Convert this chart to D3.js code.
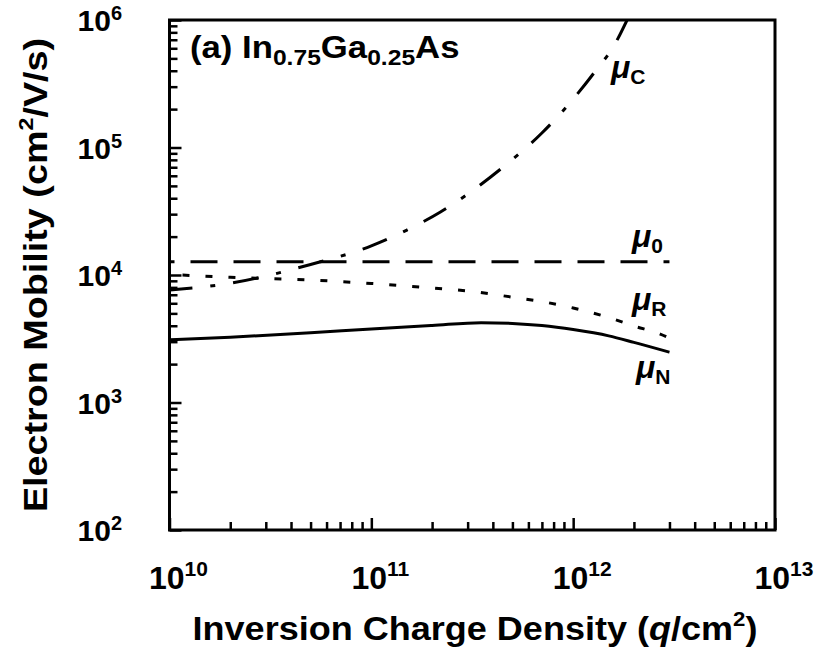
<!DOCTYPE html>
<html>
<head>
<meta charset="utf-8">
<script src="https://cdn.jsdelivr.net/npm/d3@7"></script>
<style>
body{margin:0;background:#fff}
text{font-family:'Liberation Sans',Arial,sans-serif;font-weight:bold;fill:#000}
</style>
</head>
<body>
<div id="graph"></div>
<script>
// charge density (q/cm^2) and mobility (cm^2/V/s)
var qN = [1e10, 2e10, 5e10, 1e11, 2e11, 3.5e11, 5e11, 7e11, 1e12, 1.5e12, 2e12, 3e12]
var muN = [3100, 3250, 3520, 3770, 4020, 4230, 4170, 4010, 3730, 3330, 2960, 2480]

var qR = [1e10, 2e10, 5e10, 1e11, 2e11, 3e11, 5e11, 7e11, 1e12, 1.5e12, 2e12, 2.7e12, 3e12]
var muR = [10100, 9590, 9140, 8580, 7910, 7500, 6700, 6190, 5510, 4640, 3980, 3440, 3200]

var qC = [1e10, 2e10, 5e10, 1e11, 1.5e11, 2.2e11, 3e11, 4.5e11, 7e11, 1e12, 1.3e12, 1.6e12, 1.85e12]
var muC = [7630, 8610, 12100, 16900, 22500, 31200, 43100, 70300, 130000, 240000, 405000, 637000, 1e6]

var q0 = [1e10, 3e12]
var mu0 = [12700, 12700]

var xDecades = [10, 11, 12, 13]
var yDecades = [2, 3, 4, 5, 6]

var series = [
  {q: q0, mu: mu0, dash: '27,16', offset: 22, sub: '0', lx: 632, ly: 247},
  {q: qR, mu: muR, dash: '7,16', offset: 10, sub: 'R', lx: 632, ly: 310},
  {q: qN, mu: muN, dash: null, offset: 0, sub: 'N', lx: 636, ly: 378},
  {q: qC, mu: muC, dash: '26,18,5,18', offset: 3, sub: 'C', lx: 611, ly: 78},
]

var svg = d3.select('#graph').append('svg')
  .attr('width', 814).attr('height', 656)

var x = d3.scaleLog().domain([1e10, 1e13]).range([169.5, 775])
var y = d3.scaleLog().domain([1e2, 1e6]).range([530, 20])

var isMajor = d => Math.abs(Math.log10(d) - Math.round(Math.log10(d))) < 1e-9

// ticks point inward on bottom and left
function drawTicks(axis, vals, size, tr){
  var g = svg.append('g')
    .attr('transform', tr)
    .call(axis.tickValues(vals).tickSize(-size).tickFormat(''))
  g.select('.domain').remove()
  g.selectAll('line').attr('stroke', '#000').attr('stroke-width', 2.5)
}

var xt = x.ticks(), yt = y.ticks()
drawTicks(d3.axisBottom(x), xt.filter(d => !isMajor(d)), 8, 'translate(0,530)')
drawTicks(d3.axisBottom(x), xt.filter(isMajor), 12, 'translate(0,530)')
drawTicks(d3.axisLeft(y), yt.filter(d => !isMajor(d)), 8, 'translate(169.5,0)')
drawTicks(d3.axisLeft(y), yt.filter(isMajor), 12, 'translate(169.5,0)')

var line = d3.line()
  .x(d => x(d[0]))
  .y(d => y(d[1]))
  .curve(d3.curveMonotoneX)

svg.append('defs').append('clipPath').attr('id', 'clip')
  .append('rect').attr('x', 169.5).attr('y', 20).attr('width', 605.5).attr('height', 510)

svg.selectAll('path.curve').data(series).join('path')
  .attr('class', 'curve')
  .attr('clip-path', 'url(#clip)')
  .attr('d', s => line(s.q.map((q, i) => [q, s.mu[i]])))
  .attr('fill', 'none')
  .attr('stroke', '#000')
  .attr('stroke-width', 3)
  .attr('stroke-dasharray', s => s.dash)
  .attr('stroke-dashoffset', s => s.offset)

svg.append('rect')
  .attr('x', 169.5).attr('y', 20).attr('width', 605.5).attr('height', 510)
  .attr('fill', 'none').attr('stroke', '#000').attr('stroke-width', 3)

// curve labels
var lab = svg.selectAll('text.lab').data(series).join('text')
  .attr('class', 'lab')
  .attr('x', s => s.lx).attr('y', s => s.ly)
lab.append('tspan').text('\u03bc').style('font-style', 'italic').style('font-size', '32px')
lab.append('tspan').text(s => s.sub).attr('dy', 6).style('font-size', '21px')

// tick labels
var xl = svg.selectAll('text.xl').data(xDecades).join('text')
  .attr('class', 'xl')
  .attr('x', d => x(Math.pow(10, d)) + 9)
  .attr('y', 589)
  .attr('text-anchor', 'middle')
xl.append('tspan').text('10').style('font-size', '32px')
xl.append('tspan').text(d => d).attr('dy', -13).style('font-size', '21px')

var yl = svg.selectAll('text.yl').data(yDecades).join('text')
  .attr('class', 'yl')
  .attr('x', 122)
  .attr('y', d => y(Math.pow(10, d)) + 11)
  .attr('text-anchor', 'end')
yl.append('tspan').text('10').style('font-size', '30px')
yl.append('tspan').text(d => d).attr('dy', -11).style('font-size', '20px')

// panel title
var t = svg.append('text')
  .attr('transform', 'translate(190,58) scale(1.12,1)')
  .style('font-size', '31px')
t.append('tspan').text('(a) In')
t.append('tspan').text('0.75').attr('dy', 7).style('font-size', '22px')
t.append('tspan').text('Ga').attr('dy', -7)
t.append('tspan').text('0.25').attr('dy', 7).style('font-size', '22px')
t.append('tspan').text('As').attr('dy', -7)

// axis titles
var xt2 = svg.append('text')
  .attr('transform', 'translate(475,640) scale(1.06,1)')
  .attr('text-anchor', 'middle').style('font-size', '34px')
xt2.append('tspan').text('Inversion Charge Density (')
xt2.append('tspan').text('q').style('font-style', 'italic')
xt2.append('tspan').text('/cm')
xt2.append('tspan').text('2').attr('dy', -14).style('font-size', '21px')
xt2.append('tspan').text(')').attr('dy', 14)

var yt2 = svg.append('text')
  .attr('transform', 'translate(47,275) rotate(-90) scale(1.11,1)')
  .attr('text-anchor', 'middle').style('font-size', '34px')
yt2.append('tspan').text('Electron Mobility (cm')
yt2.append('tspan').text('2').attr('dy', -14).style('font-size', '21px')
yt2.append('tspan').text('/V/s)').attr('dy', 14)
</script>
</body>
</html>
